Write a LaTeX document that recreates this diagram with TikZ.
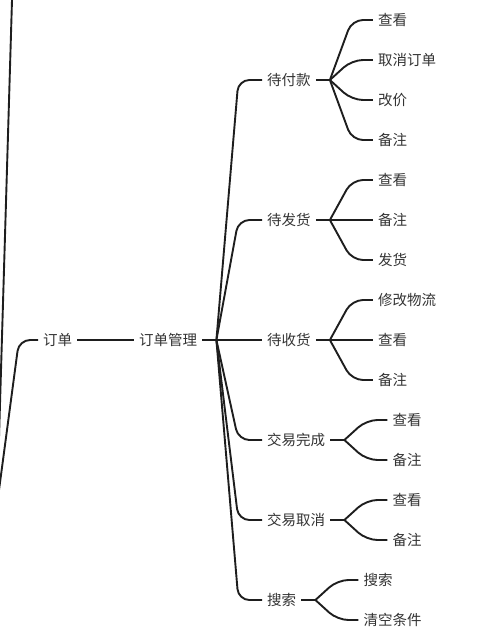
\documentclass[tikz,border=0pt]{standalone}
\usepackage{fontspec}
\newfontfamily\cjk{Noto Sans CJK SC}
\definecolor{linec}{HTML}{1E1E1E}
\definecolor{textc}{HTML}{333333}
\begin{document}
\begin{tikzpicture}[x=1pt,y=-1pt,
  conn/.style={draw=linec, line width=1.9pt, rounded corners=11pt},
  lbl/.style={font=\cjk\fontsize{14.5}{17}\selectfont, text=textc, inner xsep=5pt, inner ysep=0pt, anchor=west}]
\useasboundingbox (0,0) rectangle (479,637);
\clip (0,0) rectangle (479,637);

% off-screen parent junction
\coordinate (J) at (-3,505);
\coordinate (Jtop) at (12.6,-20);
\coordinate (Jleft) at (-40,505);

\node[lbl] (dd) at (38,340) {订单};
\node[lbl] (ddgl) at (134,340) {订单管理};
\draw[conn] (Jleft) -- (J) -- (Jtop);
\draw[conn] (J) -- (19,340) -- (dd.west);
\draw[conn] (dd.east) -- (ddgl.west);

% level 1
\coordinate (j0) at ([xshift=14pt]ddgl.east);
\coordinate (j0c) at ([xshift=22pt]j0);
\node[lbl] (c1) at (262,80) {待付款};
\node[lbl] (c2) at (262,220) {待发货};
\node[lbl] (c3) at (262,340) {待收货};
\node[lbl] (c4) at (262,440) {交易完成};
\node[lbl] (c5) at (262,520) {交易取消};
\node[lbl] (c6) at (262,600) {搜索};
\draw[conn] (ddgl.east) -- (j0);
\foreach \c in {c1,c2,c3,c4,c5,c6}{
  \draw[conn] (j0) -- (j0c |- \c.west) -- (\c.west);
}

% level 2 junctions
\foreach \c in {c1,c2,c3,c4,c5,c6}{
  \coordinate (j\c) at ([xshift=14pt]\c.east);
  \coordinate (jc\c) at ([xshift=22pt]j\c);
  \coordinate (k\c) at ([xshift=43pt]j\c);
  \draw[conn] (\c.east) -- (j\c);
}

% 待付款
\node[lbl] (g11) at (kc1 |- 0,20) {查看};
\node[lbl] (g12) at (kc1 |- 0,60) {取消订单};
\node[lbl] (g13) at (kc1 |- 0,100) {改价};
\node[lbl] (g14) at (kc1 |- 0,140) {备注};
% 待发货
\node[lbl] (g21) at (kc2 |- 0,180) {查看};
\node[lbl] (g22) at (kc2 |- 0,220) {备注};
\node[lbl] (g23) at (kc2 |- 0,260) {发货};
% 待收货
\node[lbl] (g31) at (kc3 |- 0,300) {修改物流};
\node[lbl] (g32) at (kc3 |- 0,340) {查看};
\node[lbl] (g33) at (kc3 |- 0,380) {备注};
% 交易完成
\node[lbl] (g41) at (kc4 |- 0,420) {查看};
\node[lbl] (g42) at (kc4 |- 0,460) {备注};
% 交易取消
\node[lbl] (g51) at (kc5 |- 0,500) {查看};
\node[lbl] (g52) at (kc5 |- 0,540) {备注};
% 搜索
\node[lbl] (g61) at (kc6 |- 0,580) {搜索};
\node[lbl] (g62) at (kc6 |- 0,620) {清空条件};

\foreach \p/\g in {c1/g11,c1/g12,c1/g13,c1/g14,c2/g21,c2/g22,c2/g23,c3/g31,c3/g32,c3/g33,c4/g41,c4/g42,c5/g51,c5/g52,c6/g61,c6/g62}{
  \draw[conn] (j\p) -- (jc\p |- \g.west) -- (\g.west);
}
\end{tikzpicture}
\end{document}
